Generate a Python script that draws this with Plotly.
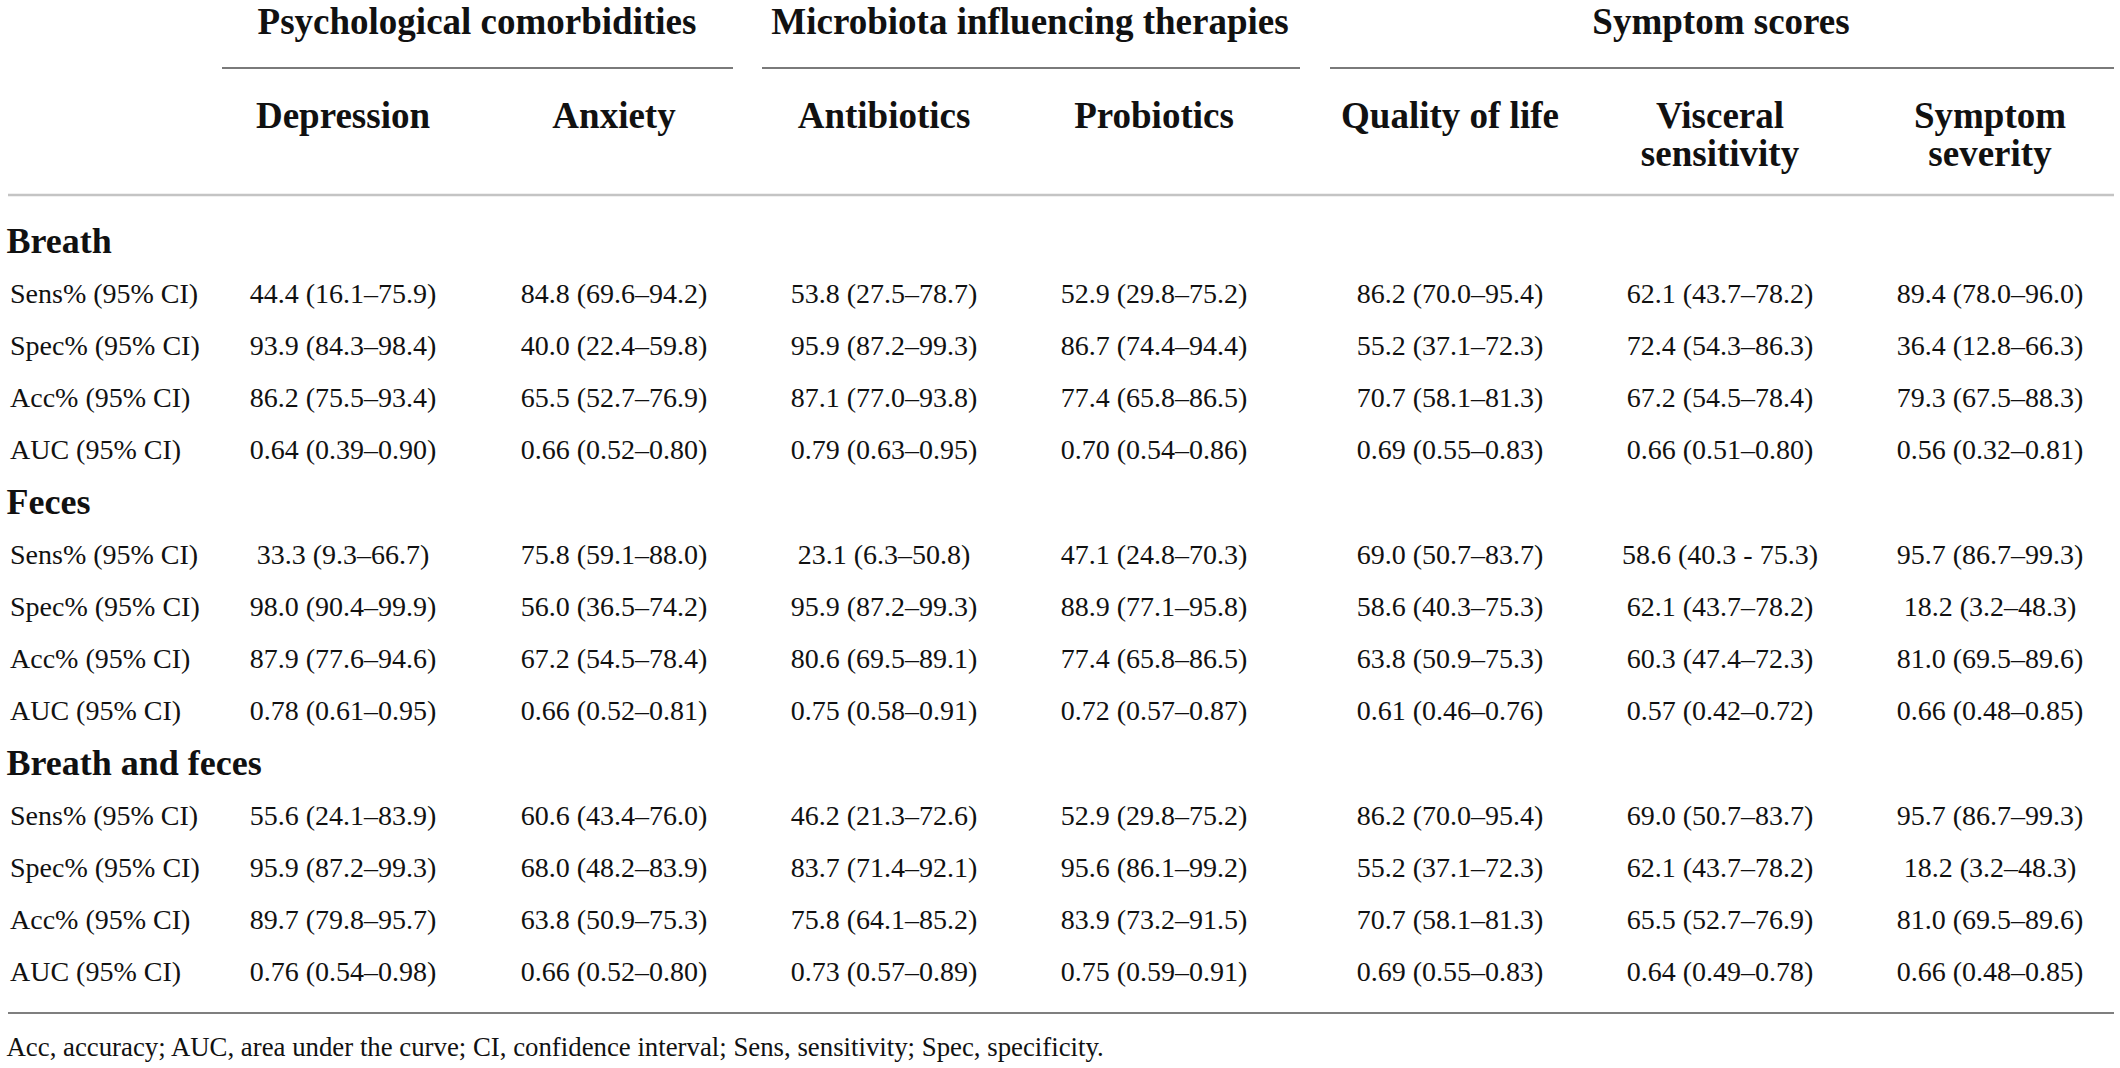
import plotly.graph_objects as go

# ---------------- data ----------------
group_headers = ["Psychological comorbidities", "Microbiota influencing therapies", "Symptom scores"]
column_headers = ["Depression", "Anxiety", "Antibiotics", "Probiotics",
                  "Quality of life", "Visceral<br>sensitivity", "Symptom<br>severity"]
section_labels = ["Breath", "Feces", "Breath and feces"]
metric_labels = ["Sens% (95% CI)", "Spec% (95% CI)", "Acc% (95% CI)", "AUC (95% CI)"]

breath_cells = [
    ["44.4 (16.1–75.9)", "84.8 (69.6–94.2)", "53.8 (27.5–78.7)", "52.9 (29.8–75.2)", "86.2 (70.0–95.4)", "62.1 (43.7–78.2)", "89.4 (78.0–96.0)"],
    ["93.9 (84.3–98.4)", "40.0 (22.4–59.8)", "95.9 (87.2–99.3)", "86.7 (74.4–94.4)", "55.2 (37.1–72.3)", "72.4 (54.3–86.3)", "36.4 (12.8–66.3)"],
    ["86.2 (75.5–93.4)", "65.5 (52.7–76.9)", "87.1 (77.0–93.8)", "77.4 (65.8–86.5)", "70.7 (58.1–81.3)", "67.2 (54.5–78.4)", "79.3 (67.5–88.3)"],
    ["0.64 (0.39–0.90)", "0.66 (0.52–0.80)", "0.79 (0.63–0.95)", "0.70 (0.54–0.86)", "0.69 (0.55–0.83)", "0.66 (0.51–0.80)", "0.56 (0.32–0.81)"],
]
feces_cells = [
    ["33.3 (9.3–66.7)", "75.8 (59.1–88.0)", "23.1 (6.3–50.8)", "47.1 (24.8–70.3)", "69.0 (50.7–83.7)", "58.6 (40.3 - 75.3)", "95.7 (86.7–99.3)"],
    ["98.0 (90.4–99.9)", "56.0 (36.5–74.2)", "95.9 (87.2–99.3)", "88.9 (77.1–95.8)", "58.6 (40.3–75.3)", "62.1 (43.7–78.2)", "18.2 (3.2–48.3)"],
    ["87.9 (77.6–94.6)", "67.2 (54.5–78.4)", "80.6 (69.5–89.1)", "77.4 (65.8–86.5)", "63.8 (50.9–75.3)", "60.3 (47.4–72.3)", "81.0 (69.5–89.6)"],
    ["0.78 (0.61–0.95)", "0.66 (0.52–0.81)", "0.75 (0.58–0.91)", "0.72 (0.57–0.87)", "0.61 (0.46–0.76)", "0.57 (0.42–0.72)", "0.66 (0.48–0.85)"],
]
breath_feces_cells = [
    ["55.6 (24.1–83.9)", "60.6 (43.4–76.0)", "46.2 (21.3–72.6)", "52.9 (29.8–75.2)", "86.2 (70.0–95.4)", "69.0 (50.7–83.7)", "95.7 (86.7–99.3)"],
    ["95.9 (87.2–99.3)", "68.0 (48.2–83.9)", "83.7 (71.4–92.1)", "95.6 (86.1–99.2)", "55.2 (37.1–72.3)", "62.1 (43.7–78.2)", "18.2 (3.2–48.3)"],
    ["89.7 (79.8–95.7)", "63.8 (50.9–75.3)", "75.8 (64.1–85.2)", "83.9 (73.2–91.5)", "70.7 (58.1–81.3)", "65.5 (52.7–76.9)", "81.0 (69.5–89.6)"],
    ["0.76 (0.54–0.98)", "0.66 (0.52–0.80)", "0.73 (0.57–0.89)", "0.75 (0.59–0.91)", "0.69 (0.55–0.83)", "0.64 (0.49–0.78)", "0.66 (0.48–0.85)"],
]
footnote = "Acc, accuracy; AUC, area under the curve; CI, confidence interval; Sens, sensitivity; Spec, specificity."

# ---------------- layout constants (positions / styles) ----------------
W, H = 2120, 1068
FONT = "Liberation Serif"
BODY_SIZE = 28
HEAD_SIZE = 37
SECTION_SIZE = 36
FOOT_SIZE = 26.8
TEXT_COLOR = "#111111"

col_x = [343, 614, 884, 1154, 1450, 1720, 1990]
group_x = [477, 1030, 1721]
group_spans = [(222, 733), (762, 1300), (1330, 2114)]
group_y = 25
group_line_y = 68
colhead_y = 119
colhead_line_gap = 37.5
head_rule_y = 195
first_row_y = 243.5
row_pitch = 52.2
bottom_rule_y = 1013
footnote_y = 1049
section_x = 6.5
metric_x = 10
footnote_x = 6.5

sections = [breath_cells, feces_cells, breath_feces_cells]

fig = go.Figure()


def text_trace(x, y, text, size, bold=False, position="middle center"):
    font = dict(family=FONT, size=size, color=TEXT_COLOR)
    if bold:
        font["weight"] = "bold"
    return go.Scatter(x=x, y=y, text=text, mode="text", textposition=position,
                      textfont=font, cliponaxis=False,
                      hoverinfo="skip", showlegend=False)


# group headers
fig.add_trace(text_trace(group_x, [group_y] * len(group_headers), group_headers,
                         HEAD_SIZE, bold=True))

# column headers (split multi-line headers into lines)
hx, hy, ht = [], [], []
for cx, lab in zip(col_x, column_headers):
    for k, line in enumerate(lab.split("<br>")):
        hx.append(cx)
        hy.append(colhead_y + k * colhead_line_gap)
        ht.append(line)
fig.add_trace(text_trace(hx, hy, ht, HEAD_SIZE, bold=True))

# section labels, metric labels and cells
sx, sy, st = [], [], []
mx, my, mt = [], [], []
cx_, cy_, ct_ = [], [], []
row = 0
for s_label, cells in zip(section_labels, sections):
    sx.append(section_x)
    sy.append(first_row_y + row * row_pitch)
    st.append(s_label)
    row += 1
    for m_label, vals in zip(metric_labels, cells):
        y = first_row_y + row * row_pitch
        mx.append(metric_x)
        my.append(y)
        mt.append(m_label)
        for c, v in zip(col_x, vals):
            cx_.append(c)
            cy_.append(y)
            ct_.append(v)
        row += 1

fig.add_trace(text_trace(sx, sy, st, SECTION_SIZE, bold=True, position="middle right"))
fig.add_trace(text_trace(mx, my, mt, BODY_SIZE, position="middle right"))
fig.add_trace(text_trace(cx_, cy_, ct_, BODY_SIZE))

# footnote
fig.add_trace(text_trace([footnote_x], [footnote_y], [footnote], FOOT_SIZE, position="middle right"))

# rules
for (x0, x1) in group_spans:
    fig.add_shape(type="line", x0=x0, x1=x1, y0=group_line_y, y1=group_line_y,
                  xref="x", yref="y", line=dict(color="#7a7a7a", width=2))
fig.add_shape(type="line", x0=8, x1=2114, y0=head_rule_y, y1=head_rule_y,
              xref="x", yref="y", line=dict(color="#c4c4c4", width=2.5))
fig.add_shape(type="line", x0=8, x1=2114, y0=bottom_rule_y, y1=bottom_rule_y,
              xref="x", yref="y", line=dict(color="#7f7f7f", width=2))

# axis units coincide with screen pixels of the 2120x1068 window
fig.update_layout(
    width=W, height=H,
    margin=dict(l=0, r=0, t=0, b=0),
    paper_bgcolor="white", plot_bgcolor="white",
    xaxis=dict(range=[0, W], visible=False, fixedrange=True),
    yaxis=dict(range=[H, 0], visible=False, fixedrange=True),
    showlegend=False,
)

fig.write_html(
    "out.html",
    config={"displayModeBar": False},
    post_script="document.body.style.margin='0';document.body.style.overflow='hidden';",
)
